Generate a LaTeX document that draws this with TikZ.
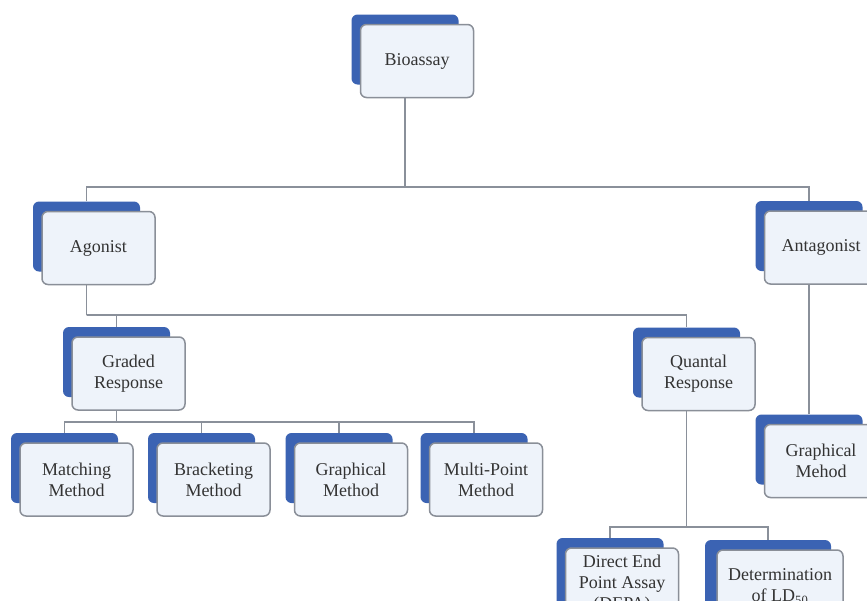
\documentclass[tikz,border=0pt]{standalone}
\usepackage{fontspec}
\setmainfont{Liberation Serif}
\usetikzlibrary{backgrounds}
\definecolor{bk}{HTML}{3B63B3}
\definecolor{fr}{HTML}{EEF3FA}
\definecolor{bd}{HTML}{8A8F98}
\definecolor{ln}{HTML}{8A909A}
\definecolor{tx}{HTML}{333333}
\tikzset{
  backbox/.style={fill=bk, rounded corners=6pt, minimum width=107pt, minimum height=70pt, inner sep=0pt, draw=none},
  frontbox/.style={fill=fr, draw=bd, line width=1.5pt, rounded corners=6pt, minimum width=113pt, minimum height=73pt, align=center, inner sep=2pt, text=tx, font=\rmfamily\fontsize{18}{21}\selectfont},
  conn/.style={draw=ln, line width=1.3pt}
}
\newcommand\dualbox[5][]{%
  \node[backbox,#1] (#2-b) at (#3-12,#4-11.5) {};
  \node[frontbox,#1] (#2) at (#3,#4) {#5};}
\begin{document}
\begin{tikzpicture}[x=1pt,y=-1pt]
\useasboundingbox (0,0) rectangle (867,600);
\clip (0,0) rectangle (867,600);
\dualbox{bio}{417}{61}{Bioassay}
\dualbox{ago}{98.5}{248}{Agonist}
\dualbox{ant}{821}{247.5}{Antagonist}
\dualbox{grd}{128.5}{373.5}{Graded\\Response}
\dualbox{qua}{698.5}{374}{Quantal\\Response}
\dualbox{mat}{76.5}{479.5}{Matching\\Method}
\dualbox{bra}{213.5}{479.5}{Bracketing\\Method}
\dualbox{gph}{351}{479.5}{Graphical\\Method}
\dualbox{mul}{486}{479.5}{Multi-Point\\Method}
\dualbox{agr}{821}{461}{Graphical\\Mehod}
\dualbox{dep}{622}{584.5}{Direct End\\Point Assay\\(DEPA)}
\dualbox[minimum width=126pt]{det}{780}{586.5}{Determination\\of LD\textsubscript{50}}
\coordinate (bus1) at (405,187);
\coordinate (bus2) at (86.5,315);
\coordinate (bus3) at (116.5,422);
\coordinate (bus4) at (686.5,527);
\begin{pgfonlayer}{background}
  \fill[white] (0,0) rectangle (867,600);
  \draw[conn] (bio-b.center) -- (bus1);
  \draw[conn] (ago-b.north) |- (bus1) -| (ant-b.north);
  \draw[conn] (ago-b.center) -- (bus2);
  \draw[conn] (grd-b.north) |- (bus2) -| (qua-b.north);
  \draw[conn] (grd-b.center) -- (bus3);
  \draw[conn] (mat-b.north) |- (bus3) -| (mul-b.north);
  \draw[conn] (bra-b.north) -- (bra-b.north |- bus3);
  \draw[conn] (gph-b.north) -- (gph-b.north |- bus3);
  \draw[conn] (qua-b.center) -- (bus4);
  \draw[conn] (dep-b.north) |- (bus4) -| (det-b.north);
  \draw[conn] (ant-b.center) -- (agr-b.north);
\end{pgfonlayer}
\end{tikzpicture}
\end{document}
